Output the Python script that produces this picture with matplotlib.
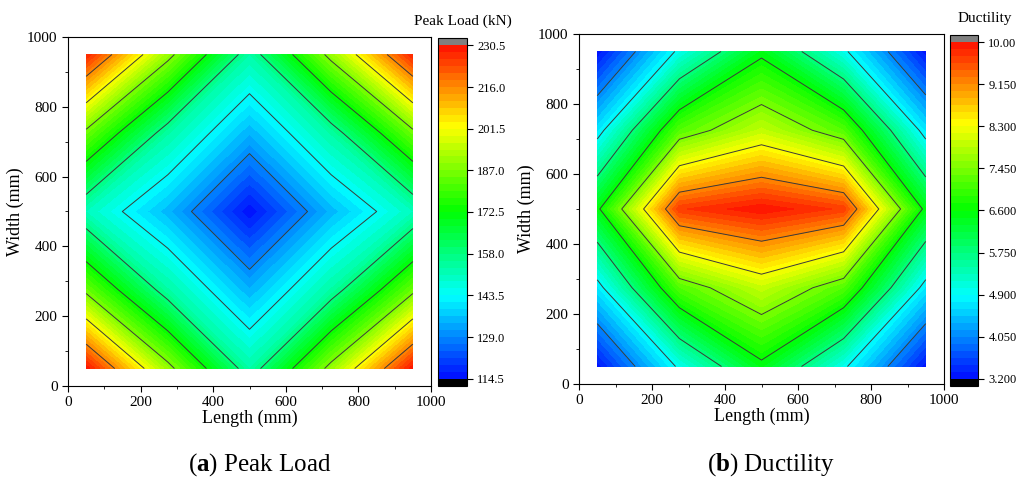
import numpy as np
import matplotlib
matplotlib.use('Agg')
from matplotlib import pyplot as plt
from matplotlib.colors import LinearSegmentedColormap, BoundaryNorm

# grid positions (mm)
xs = [50, 275, 500, 725, 950]
ys = [50, 275, 500, 725, 950]

# peak load (kN), rows = width from 50 to 950
peak_load = [
    [230.0, 190.0, 153.0, 190.0, 230.0],
    [185.0, 153.5, 134.0, 153.5, 185.0],
    [150.5, 134.7, 115.0, 134.7, 150.5],
    [185.0, 153.5, 134.0, 153.5, 185.0],
    [228.0, 190.0, 153.0, 190.0, 228.0],
]

# ductility
ductility = [
    [3.25, 4.98, 6.48, 4.98, 3.25],
    [4.72, 7.15, 7.95, 7.15, 4.72],
    [6.50, 9.69, 9.98, 9.67, 6.47],
    [4.70, 7.16, 7.92, 7.16, 4.70],
    [3.22, 5.00, 6.48, 4.99, 3.25],
]

load_ticks = [114.5, 129.0, 143.5, 158.0, 172.5, 187.0, 201.5, 216.0, 230.5]
load_labels = ['114.5', '129.0', '143.5', '158.0', '172.5', '187.0', '201.5', '216.0', '230.5']
duct_ticks = [3.2, 4.05, 4.9, 5.75, 6.6, 7.45, 8.3, 9.15, 10.0]
duct_labels = ['3.200', '4.050', '4.900', '5.750', '6.600', '7.450', '8.300', '9.150', '10.00']

plt.rcParams['font.family'] = 'Liberation Serif'
plt.rcParams['mathtext.fontset'] = 'custom'
plt.rcParams['mathtext.rm'] = 'Liberation Serif'
plt.rcParams['mathtext.bf'] = 'Liberation Serif:bold'

rainbow = LinearSegmentedColormap.from_list(
    'origin_rainbow',
    [(0.0, (0, 0, 1)), (0.25, (0, 1, 1)), (0.5, (0, 1, 0)),
     (0.75, (1, 1, 0)), (1.0, (1, 0, 0))])
rainbow.set_under('black')
rainbow.set_over('#808080')


def contour_panel(fig, ax_rect, cb_rect, z, ticks, labels, title, title_x):
    ax = fig.add_axes(ax_rect)
    cax = fig.add_axes(cb_rect)
    X, Y = np.meshgrid(xs, ys)
    Z = np.array(z)
    levels = np.linspace(ticks[0], ticks[-1], 49)
    norm = BoundaryNorm(levels, rainbow.N, extend='both')
    cf = ax.contourf(X, Y, Z, levels=levels, cmap=rainbow, norm=norm, extend='both')
    ax.contour(X, Y, Z, levels=ticks[1:-1], colors='#3a3a3a', linewidths=0.7)

    ax.set_xlim(0, 1000)
    ax.set_ylim(0, 1000)
    ax.set_xticks(range(0, 1001, 200))
    ax.set_yticks(range(0, 1001, 200))
    ax.set_xticks(range(0, 1001, 100), minor=True)
    ax.set_yticks(range(0, 1001, 100), minor=True)
    ax.tick_params(which='both', direction='out', top=False, right=False, labelsize=11)
    ax.tick_params(which='major', length=4)
    ax.tick_params(which='minor', length=2.5)
    ax.set_xlabel('Length (mm)', fontsize=13, labelpad=0)
    ax.set_ylabel('Width (mm)', fontsize=13, labelpad=2)

    cb = fig.colorbar(cf, cax=cax, extendrect=True, extendfrac=0.022, drawedges=False)
    cb.set_ticks(ticks)
    cb.set_ticklabels(labels)
    cb.minorticks_off()
    cb.ax.tick_params(labelsize=9, length=4, direction='out')
    cb.outline.set_linewidth(0.8)
    fig.text(title_x, cb_rect[1] + cb_rect[3] + 0.02, title, fontsize=11,
             ha='center', va='bottom')
    return ax


fig = plt.figure(figsize=(10.18, 4.79), dpi=100)
W, H = 1018, 479

contour_panel(fig, [68 / W, 1 - 386 / H, 363 / W, 349 / H],
              [438 / W, 1 - 386 / H, 29 / W, 348 / H],
              peak_load, load_ticks, load_labels, 'Peak Load (kN)', 463 / W)
contour_panel(fig, [579 / W, 1 - 384 / H, 365 / W, 350 / H],
              [950 / W, 1 - 386 / H, 28 / W, 351 / H],
              ductility, duct_ticks, duct_labels, 'Ductility', 985 / W)

fig.text(260 / W, 1 - 465 / H, r'($\mathbf{a}$) Peak Load', fontsize=18, ha='center', va='center')
fig.text(771 / W, 1 - 465 / H, r'($\mathbf{b}$) Ductility', fontsize=18, ha='center', va='center')

fig.savefig('out.png', dpi=100)
